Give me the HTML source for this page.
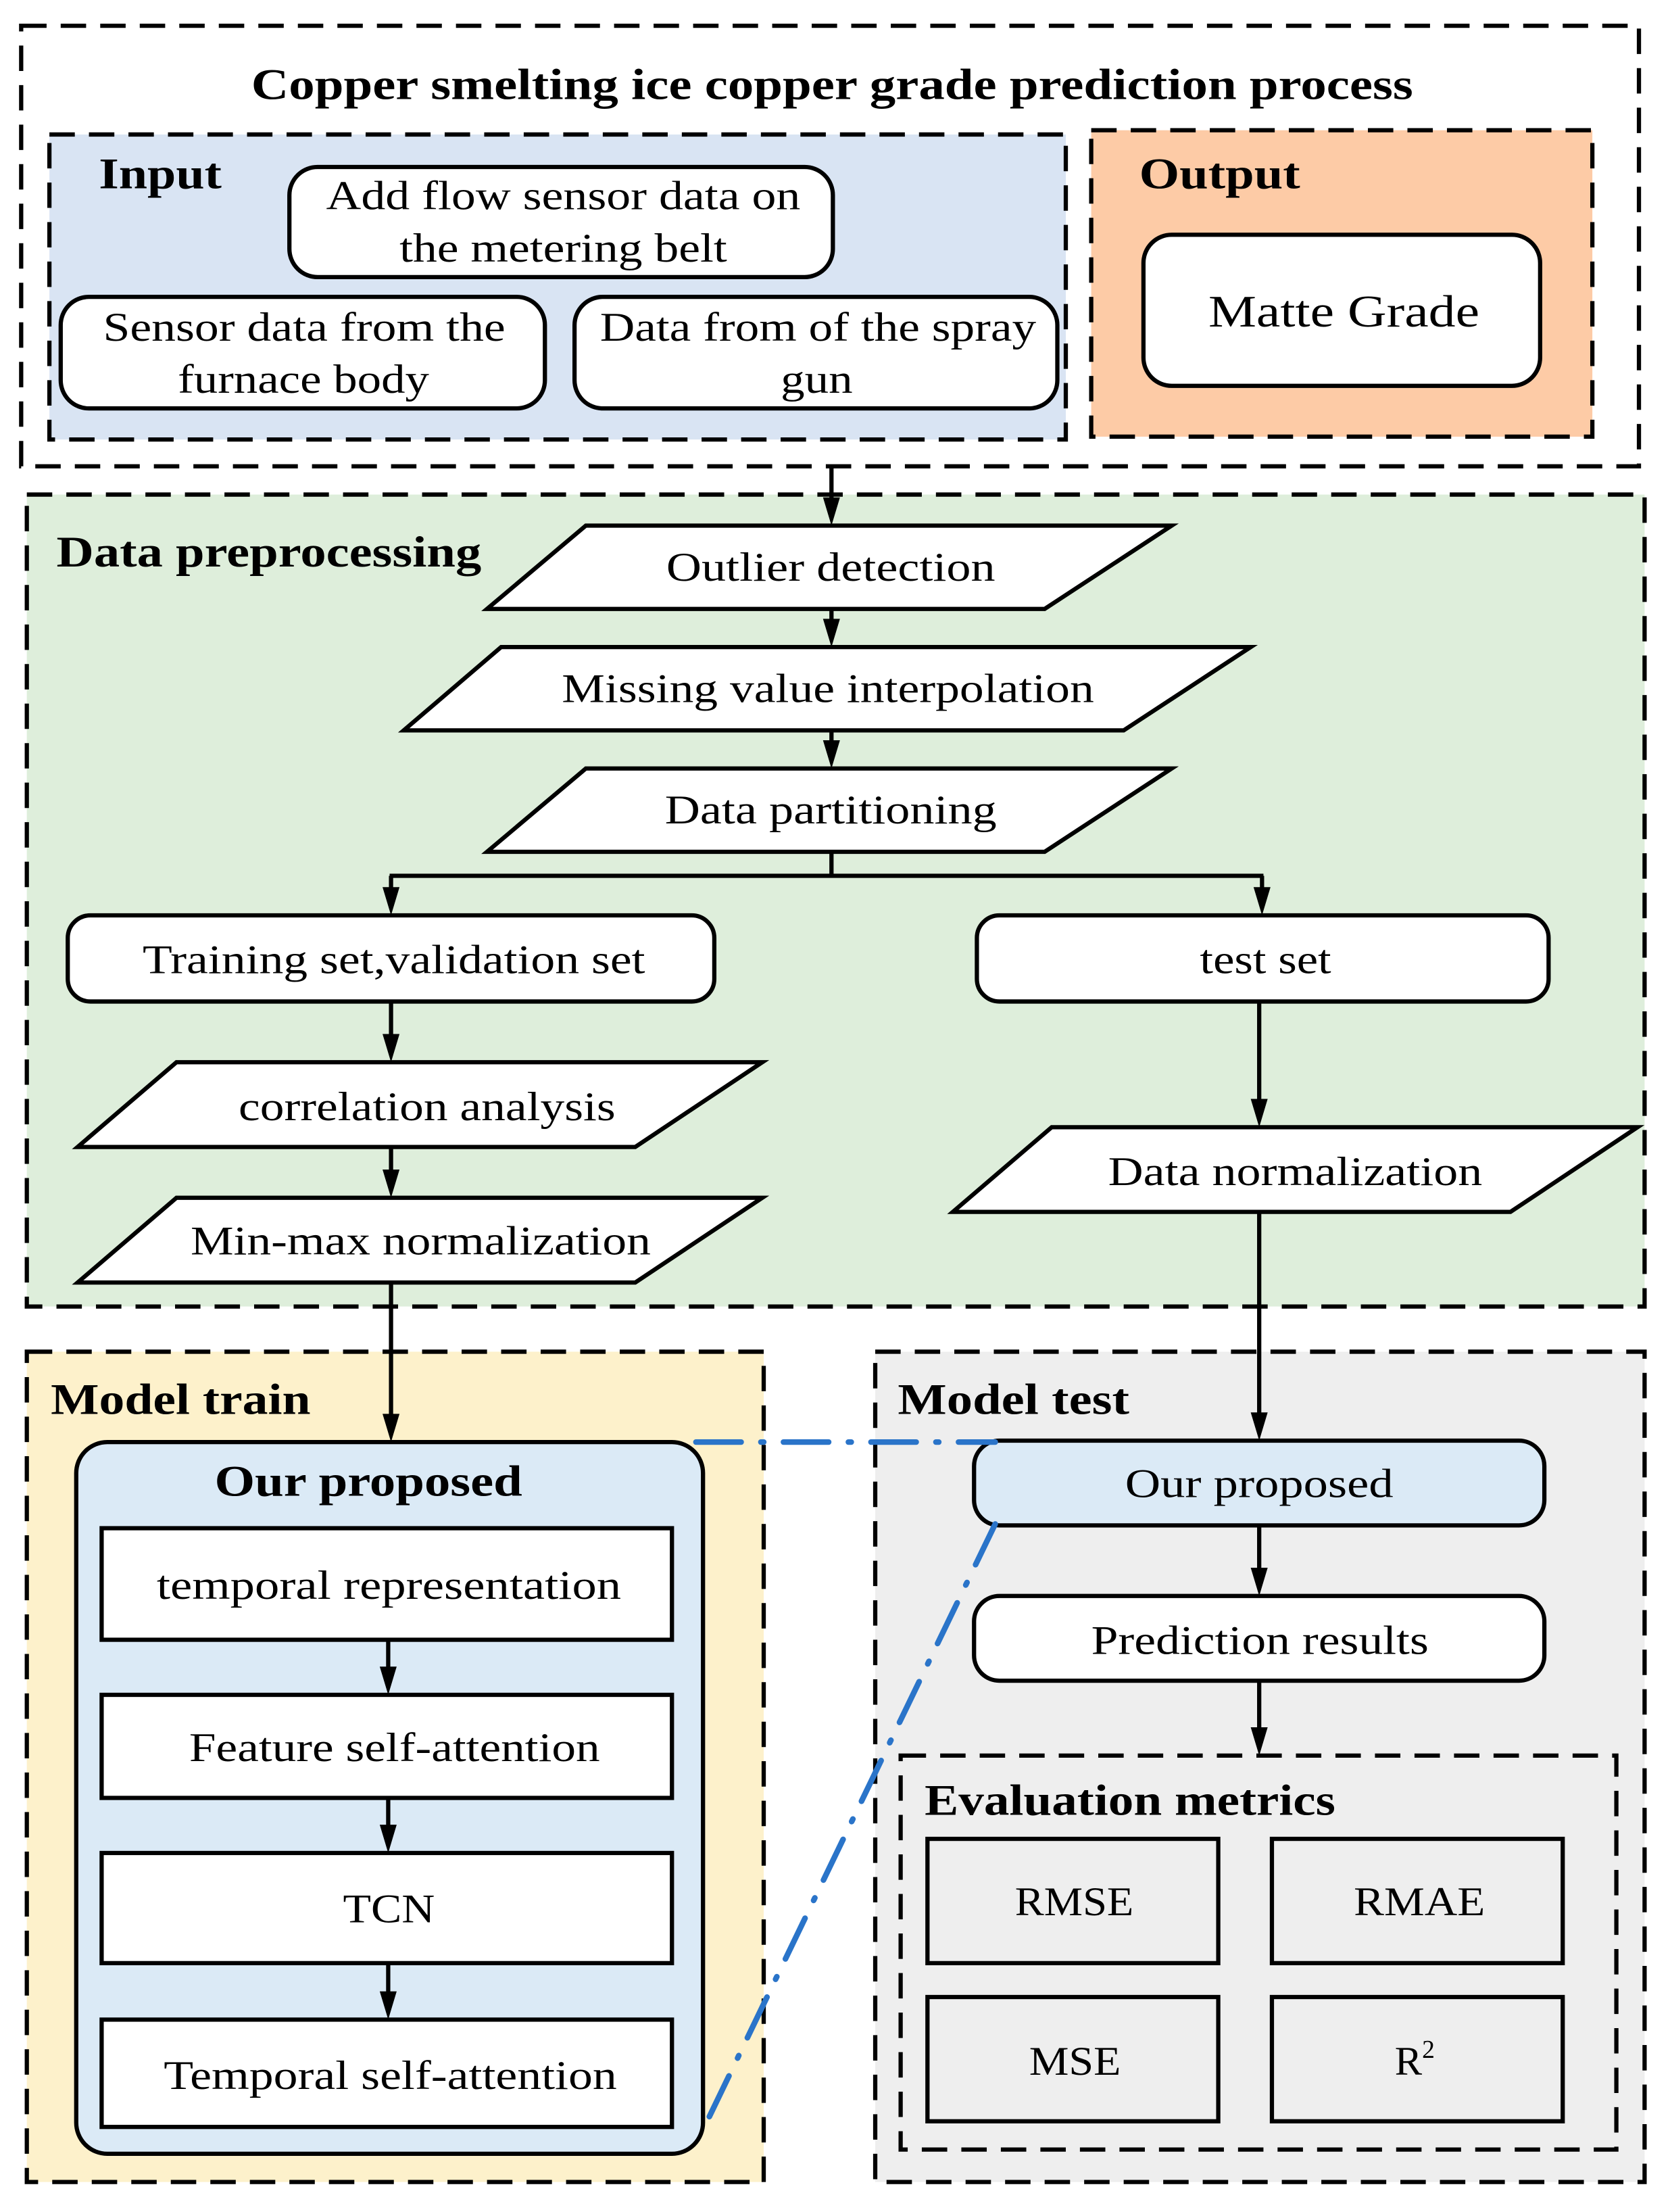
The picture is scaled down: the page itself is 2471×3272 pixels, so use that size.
<!DOCTYPE html>
<html><head><meta charset="utf-8"><style>
html,body{margin:0;padding:0;background:#fff}
svg{display:block}
text{font-family:"Liberation Serif",serif;fill:#000}
</style></head><body>
<svg width="2471" height="3272" viewBox="0 0 1183 1566" xmlns="http://www.w3.org/2000/svg">
<g stroke="#000" stroke-width="3" stroke-dasharray="18 10" fill="none">
<rect x="15" y="18" width="1146" height="312" fill="#fff"/>
<rect x="35" y="95" width="720" height="216" fill="#d9e4f3"/>
<rect x="773" y="92" width="355" height="217" fill="#fdcba6"/>
<rect x="19" y="350" width="1146" height="575" fill="#deeedb"/>
<rect x="19" y="957" width="522" height="588" fill="#fdf1cb"/>
<rect x="620" y="957" width="545" height="588" fill="#eeeeee"/>
<rect x="638" y="1243" width="507" height="279" fill="#eeeeee"/>
</g>
<g font-weight="bold" font-size="31">
<text x="178" y="70" textLength="823" lengthAdjust="spacingAndGlyphs">Copper smelting ice copper grade prediction process</text>
<text x="70" y="133" textLength="87" lengthAdjust="spacingAndGlyphs">Input</text>
<text x="807" y="133" textLength="114" lengthAdjust="spacingAndGlyphs">Output</text>
<text x="40" y="401" textLength="301" lengthAdjust="spacingAndGlyphs">Data preprocessing</text>
<text x="36" y="1001" textLength="184" lengthAdjust="spacingAndGlyphs">Model train</text>
<text x="636" y="1001" textLength="164" lengthAdjust="spacingAndGlyphs">Model test</text>
<text x="655" y="1285" textLength="291" lengthAdjust="spacingAndGlyphs">Evaluation metrics</text>
</g>
<g stroke="#000" stroke-width="3" fill="#fff">
<rect x="205" y="118" width="385" height="78" rx="20"/>
<rect x="43" y="210" width="343" height="79" rx="20"/>
<rect x="407" y="210" width="342" height="79" rx="20"/>
<rect x="810" y="166" width="281" height="107" rx="20"/>
<polygon points="415,372 830,372 740,431 345,431"/>
<polygon points="355,458 886,458 796,517 286,517"/>
<polygon points="415,544 830,544 740,603 345,603"/>
<rect x="48" y="648" width="458" height="61" rx="16"/>
<rect x="692" y="648" width="405" height="61" rx="16"/>
<polygon points="125,752 540,752 450,812 55,812"/>
<polygon points="125,848 540,848 450,908 55,908"/>
<polygon points="745,798 1160,798 1070,858 675,858"/>
<rect x="54" y="1021" width="444" height="504" rx="22" fill="#dbeaf6"/>
<rect x="72" y="1082" width="404" height="79"/>
<rect x="72" y="1200" width="404" height="73"/>
<rect x="72" y="1312" width="404" height="78"/>
<rect x="72" y="1430" width="404" height="76"/>
<rect x="690" y="1020" width="404" height="60" rx="18" fill="#dbeaf6"/>
<rect x="690" y="1130" width="404" height="60" rx="18"/>
<rect x="657" y="1302" width="206" height="88" fill="#eeeeee"/>
<rect x="901" y="1302" width="206" height="88" fill="#eeeeee"/>
<rect x="657" y="1414" width="206" height="88" fill="#eeeeee"/>
<rect x="901" y="1414" width="206" height="88" fill="#eeeeee"/>
</g>
<g font-size="29">
<text x="231" y="148" textLength="336" lengthAdjust="spacingAndGlyphs">Add flow sensor data on</text>
<text x="283" y="185" textLength="232" lengthAdjust="spacingAndGlyphs">the metering belt</text>
<text x="73" y="241" textLength="285" lengthAdjust="spacingAndGlyphs">Sensor data from the</text>
<text x="126" y="278" textLength="178" lengthAdjust="spacingAndGlyphs">furnace body</text>
<text x="425" y="241" textLength="309" lengthAdjust="spacingAndGlyphs">Data from of the spray</text>
<text x="553" y="278" textLength="51" lengthAdjust="spacingAndGlyphs">gun</text>
<text x="856" y="231" font-size="32" textLength="192" lengthAdjust="spacingAndGlyphs">Matte Grade</text>
<text x="472" y="411" textLength="233" lengthAdjust="spacingAndGlyphs">Outlier detection</text>
<text x="398" y="497" textLength="377" lengthAdjust="spacingAndGlyphs">Missing value interpolation</text>
<text x="471" y="583" textLength="235" lengthAdjust="spacingAndGlyphs">Data partitioning</text>
<text x="101" y="689" textLength="356" lengthAdjust="spacingAndGlyphs">Training set,validation set</text>
<text x="850" y="689" textLength="93" lengthAdjust="spacingAndGlyphs">test set</text>
<text x="169" y="793" textLength="267" lengthAdjust="spacingAndGlyphs">correlation analysis</text>
<text x="135" y="888" textLength="326" lengthAdjust="spacingAndGlyphs">Min-max normalization</text>
<text x="785" y="839" textLength="265" lengthAdjust="spacingAndGlyphs">Data normalization</text>
<text x="152" y="1059" font-weight="bold" font-size="31" textLength="218" lengthAdjust="spacingAndGlyphs">Our proposed</text>
<text x="111" y="1132" textLength="329" lengthAdjust="spacingAndGlyphs">temporal representation</text>
<text x="134" y="1247" textLength="291" lengthAdjust="spacingAndGlyphs">Feature self-attention</text>
<text x="243" y="1361" textLength="65" lengthAdjust="spacingAndGlyphs">TCN</text>
<text x="116" y="1479" textLength="321" lengthAdjust="spacingAndGlyphs">Temporal self-attention</text>
<text x="797" y="1060" textLength="190" lengthAdjust="spacingAndGlyphs">Our proposed</text>
<text x="773" y="1171" textLength="239" lengthAdjust="spacingAndGlyphs">Prediction results</text>
<text x="719" y="1356" textLength="84" lengthAdjust="spacingAndGlyphs">RMSE</text>
<text x="959" y="1356" textLength="93" lengthAdjust="spacingAndGlyphs">RMAE</text>
<text x="729" y="1469" textLength="65" lengthAdjust="spacingAndGlyphs">MSE</text>
<text x="988" y="1469">R<tspan font-size="18" dy="-12">2</tspan></text>
</g>
<g stroke="#000" stroke-width="3" fill="none">
<line x1="589" y1="330" x2="589" y2="354"/>
<line x1="589" y1="431" x2="589" y2="440"/>
<line x1="589" y1="517" x2="589" y2="526"/>
<line x1="589" y1="603" x2="589" y2="620"/>
<line x1="276" y1="620" x2="895" y2="620"/>
<line x1="277" y1="620" x2="277" y2="630"/>
<line x1="894" y1="620" x2="894" y2="630"/>
<line x1="277" y1="709" x2="277" y2="734"/>
<line x1="277" y1="812" x2="277" y2="830"/>
<line x1="892" y1="709" x2="892" y2="780"/>
<line x1="892" y1="858" x2="892" y2="1002"/>
<line x1="277" y1="908" x2="277" y2="1003"/>
<line x1="275" y1="1161" x2="275" y2="1182"/>
<line x1="275" y1="1273" x2="275" y2="1294"/>
<line x1="275" y1="1390" x2="275" y2="1412"/>
<line x1="892" y1="1080" x2="892" y2="1112"/>
<line x1="892" y1="1190" x2="892" y2="1225"/>
</g>
<g fill="#000">
<polygon points="583,352 595,352 589,372"/>
<polygon points="583,438 595,438 589,458"/>
<polygon points="583,524 595,524 589,544"/>
<polygon points="271,628 283,628 277,648"/>
<polygon points="888,628 900,628 894,648"/>
<polygon points="271,732 283,732 277,752"/>
<polygon points="271,828 283,828 277,848"/>
<polygon points="886,778 898,778 892,798"/>
<polygon points="886,1000 898,1000 892,1020"/>
<polygon points="271,1001 283,1001 277,1021"/>
<polygon points="269,1180 281,1180 275,1200"/>
<polygon points="269,1292 281,1292 275,1312"/>
<polygon points="269,1410 281,1410 275,1430"/>
<polygon points="886,1110 898,1110 892,1130"/>
<polygon points="886,1223 898,1223 892,1243"/>
</g>
<g stroke="#2a74c9" stroke-width="4" fill="none" stroke-dasharray="32 14 2 14" stroke-linecap="round">
<line x1="493" y1="1021" x2="705" y2="1021"/>
<line x1="705" y1="1079" x2="498" y2="1508"/>
</g>
</svg>
</body></html>
